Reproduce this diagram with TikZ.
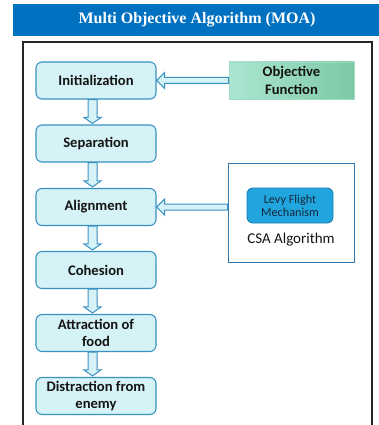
\documentclass[tikz,border=0pt]{standalone}
\usepackage{fontspec}
\setmainfont{Carlito}
\newfontfamily\titlefont{Liberation Serif}
\usetikzlibrary{calc}
\definecolor{titleblue}{HTML}{0070C0}
\definecolor{boxfill}{HTML}{D5F2F7}
\definecolor{boxline}{HTML}{3A92C2}
\definecolor{objleft}{HTML}{ACE6D1}
\definecolor{objright}{HTML}{7DC8A6}
\definecolor{objline}{HTML}{9EDBC3}
\definecolor{csaline}{HTML}{2E78B4}
\definecolor{levyfill}{HTML}{20A5DE}
\definecolor{levyline}{HTML}{1C7DB0}
\definecolor{levytext}{HTML}{15263A}
\definecolor{txt}{HTML}{141414}
\tikzset{
  stepbox/.style={draw=boxline, line width=1.1pt, fill=boxfill, rounded corners=6pt,
    minimum width=120pt, minimum height=37pt, align=center, inner sep=1pt,
    text=txt, font=\fontsize{14.6}{17.5}\selectfont\bfseries},
  objbox/.style={draw=objline, line width=0.8pt, left color=objleft, right color=objright,
    minimum width=125pt, minimum height=37pt, align=center, inner sep=1pt,
    text=txt, font=\fontsize{14.6}{17.5}\selectfont\bfseries},
  csabox/.style={draw=csaline, line width=1pt, fill=white,
    minimum width=126pt, minimum height=99pt},
  levybox/.style={draw=levyline, line width=0.9pt, fill=levyfill, rounded corners=6pt,
    minimum width=86pt, minimum height=35pt, align=center, inner sep=1pt,
    text=levytext, font=\fontsize{12.2}{13.2}\selectfont},
  plainlabel/.style={text=txt, font=\fontsize{15}{17}\selectfont, inner sep=0pt},
  blockarrow/.style={draw=boxline, line width=1pt, fill=boxfill, line join=miter},
}
\newcommand\vblock[2]{%
  \path[blockarrow] let \p1=($(#1.south)+(-3.5pt,0)$), \p2=($(#2.north)+(-3.5pt,0)$) in
    (\x1-4.5pt,\y1) -- (\x1+4.5pt,\y1) -- (\x1+4.5pt,\y2+7pt) -- (\x1+8.5pt,\y2+7pt)
    -- (\x1,\y2+1pt) -- (\x1-8.5pt,\y2+7pt) -- (\x1-4.5pt,\y2+7pt) -- cycle;}
\newcommand\hblock[2]{%
  \path[blockarrow] let \p1=(#1.west), \p2=(#2.east) in
    (\x1,\y2+3pt) -- (\x2+8pt,\y2+3pt) -- (\x2+8pt,\y2+8pt) -- (\x2,\y2)
    -- (\x2+8pt,\y2-8pt) -- (\x2+8pt,\y2-3pt) -- (\x1,\y2-3pt) -- cycle;}
\begin{document}
\begin{tikzpicture}[x=1pt,y=-1pt]
\useasboundingbox (0,0) rectangle (379,425);
% title bar
\fill[titleblue] (13,4) rectangle (379,36);
\node[text=white, font=\titlefont\fontsize{16}{18}\selectfont\bfseries, inner sep=0pt] (title) at (197,20) {Multi Objective Algorithm (MOA)};
% outer frame
\draw[line width=1.5pt, draw=black!85] (23,425) -- (23,42) -- (372,42) -- (372,425);
% main flow
\node[stepbox] (init) at (96,80.5) {Initialization};
\node[stepbox] (sep)  at (96,143.5) {Separation};
\node[stepbox] (ali)  at (96,207) {Alignment};
\node[stepbox] (coh)  at (96,270) {Cohesion};
\node[stepbox] (att)  at (96,333) {Attraction of\\food};
\node[stepbox] (dis)  at (96,396) {Distraction from\\enemy};
% right side
\node[objbox] (obj) at (291.5,80.5) {Objective\\Function};
\node[csabox] (csa) at (291,212.5) {};
\node[levybox] (levy) at (290,205.5) {Levy Flight\\Mechanism};
\node[plainlabel] (csalabel) at (291,240) {CSA Algorithm};
% arrows
\vblock{init}{sep}
\vblock{sep}{ali}
\vblock{ali}{coh}
\vblock{coh}{att}
\vblock{att}{dis}
\hblock{obj}{init}
\hblock{csa}{ali}
\end{tikzpicture}
\end{document}
